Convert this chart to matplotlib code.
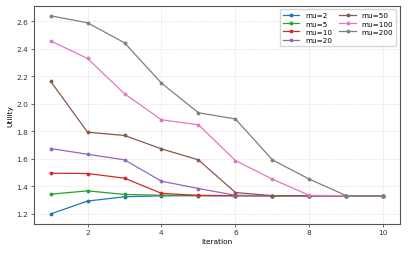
import numpy as np
import matplotlib
matplotlib.use('Agg')
import matplotlib.pyplot as plt

# 데이터
iterations = [1, 2, 3, 4, 5, 6, 7, 8, 9, 10]
labels = ['mu=2', 'mu=5', 'mu=10', 'mu=20', 'mu=50', 'mu=100', 'mu=200']
colors = ['tab:blue', 'tab:green', 'tab:red', 'tab:purple', 'tab:brown', 'tab:pink', 'tab:gray']

mu2 = [1.200, 1.294, 1.325, 1.332, 1.333, 1.333, 1.333, 1.333, 1.333, 1.333]
mu5 = [1.344, 1.368, 1.342, 1.336, 1.334, 1.333, 1.333, 1.333, 1.333, 1.333]
mu10 = [1.496, 1.494, 1.460, 1.350, 1.335, 1.333, 1.333, 1.333, 1.333, 1.333]
mu20 = [1.675, 1.634, 1.593, 1.438, 1.385, 1.336, 1.333, 1.333, 1.333, 1.333]
mu50 = [2.164, 1.794, 1.770, 1.673, 1.593, 1.356, 1.333, 1.333, 1.333, 1.333]
mu100 = [2.457, 2.329, 2.073, 1.884, 1.848, 1.588, 1.453, 1.335, 1.333, 1.333]
mu200 = [2.639, 2.588, 2.443, 2.150, 1.935, 1.890, 1.593, 1.453, 1.333, 1.333]

series = [mu2, mu5, mu10, mu20, mu50, mu100, mu200]

plt.rcParams['font.size'] = 5.3

fig = plt.figure(figsize=(4.14, 2.55), dpi=100)
ax = fig.add_axes([0.082, 0.118, 0.884, 0.855])

for s, lab, c in zip(series, labels, colors):
    ax.plot(iterations, s, marker='.', markersize=3.5, linewidth=0.9, color=c, label=lab)

ax.grid(True, linestyle=':', linewidth=0.5, color='#cccccc')
ax.set_xlabel('Iteration', labelpad=1.5)
ax.set_ylabel('Utility', labelpad=2)
for sp in ax.spines.values():
    sp.set_color('#555555')
    sp.set_linewidth(0.8)
ax.tick_params(length=2, width=0.5, pad=2, colors='#333333')
ax.legend(loc='upper right', ncol=2, fontsize=5.2, handlelength=2.3, columnspacing=1.0,
          labelspacing=0.3, borderpad=0.4)

plt.savefig('out.png', dpi=100)
